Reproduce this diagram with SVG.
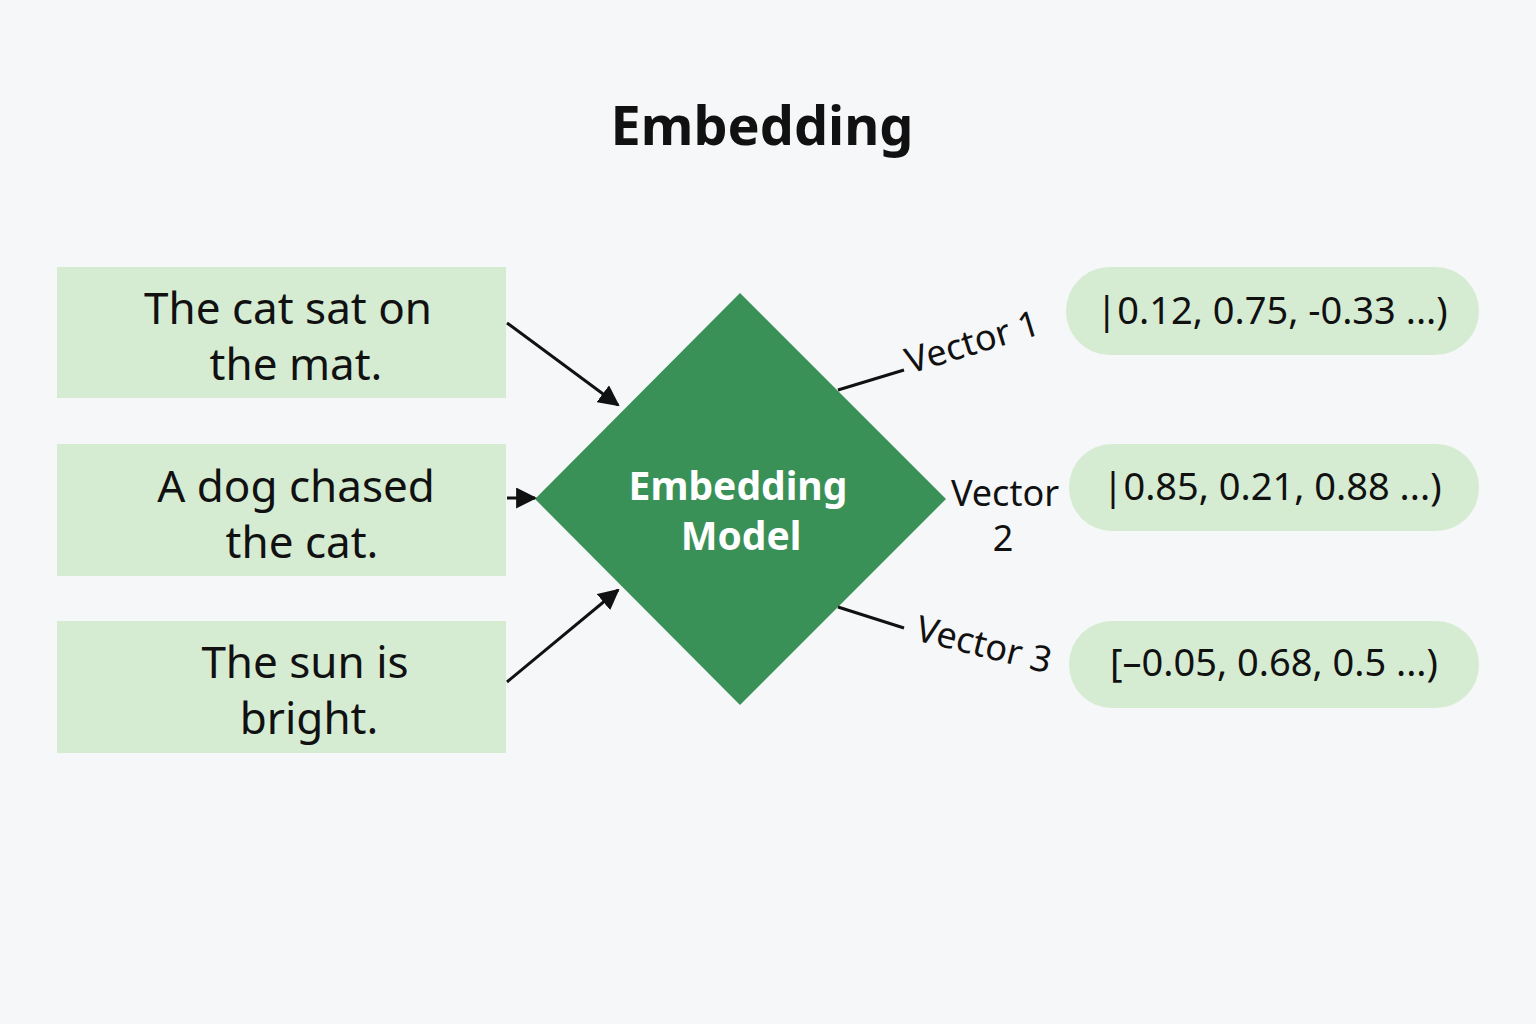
<svg xmlns="http://www.w3.org/2000/svg" width="1536" height="1024" viewBox="0 0 1536 1024">
<style>
text{font-family:"Noto Sans","Open Sans",sans-serif;fill:#111}
.box{fill:#d5ecd3}
.t{font-size:44px;text-anchor:middle}
.v{font-size:38px;text-anchor:middle}
.lab{font-size:36px}
.c{stroke:#111;stroke-width:3;fill:none}
</style>
<defs><marker id="a" viewBox="0 0 10 10" refX="9" refY="5" markerWidth="7" markerHeight="7" orient="auto"><path d="M0,0L10,5L0,10z" fill="#111"/></marker></defs>
<rect width="1536" height="1024" fill="#f6f7f8"/>
<text x="762" y="145" font-size="54" font-weight="bold" text-anchor="middle">Embedding</text>
<g id="in1"><rect class="box" x="57" y="267" width="449" height="131"/><text class="t" x="288" y="324">The cat sat on</text><text class="t" x="296" y="380">the mat.</text></g>
<g id="in2"><rect class="box" x="57" y="444" width="449" height="132"/><text class="t" x="296" y="502">A dog chased</text><text class="t" x="302" y="558">the cat.</text></g>
<g id="in3"><rect class="box" x="57" y="621" width="449" height="132"/><text class="t" x="305" y="678">The sun is</text><text class="t" x="309" y="734">bright.</text></g>
<g id="model"><polygon points="740,293 946,499 740,705 535,499" fill="#3a9157"/><text x="738" y="500" font-size="39" font-weight="bold" text-anchor="middle" style="fill:#fff">Embedding</text><text x="741" y="550" font-size="39" font-weight="bold" text-anchor="middle" style="fill:#fff">Model</text></g>
<g id="out1"><rect class="box" x="1066" y="267" width="413" height="88" rx="44"/><text class="v" x="1272" y="324">|0.12, 0.75, -0.33 ...)</text></g>
<g id="out2"><rect class="box" x="1069" y="444" width="410" height="87" rx="43"/><text class="v" x="1272" y="500">|0.85, 0.21, 0.88 ...)</text></g>
<g id="out3"><rect class="box" x="1069" y="621" width="410" height="87" rx="43"/><text class="v" x="1274" y="676">[–0.05, 0.68, 0.5 ...)</text></g>
<g id="connectors">
<line class="c" x1="507" y1="323" x2="618" y2="405" marker-end="url(#a)"/>
<line class="c" x1="507" y1="498" x2="535" y2="498" marker-end="url(#a)"/>
<line class="c" x1="507" y1="682" x2="618" y2="590" marker-end="url(#a)"/>
<line class="c" x1="838" y1="390" x2="904" y2="370"/>
<line class="c" x1="838" y1="607" x2="904" y2="628"/>
<text class="lab" transform="translate(910,374) rotate(-17)">Vector 1</text>
<text class="lab" x="1005" y="506" text-anchor="middle">Vector</text>
<text class="lab" x="1003" y="551" text-anchor="middle">2</text>
<text class="lab" transform="translate(914,640) rotate(14)">Vector 3</text>
</g>
</svg>
